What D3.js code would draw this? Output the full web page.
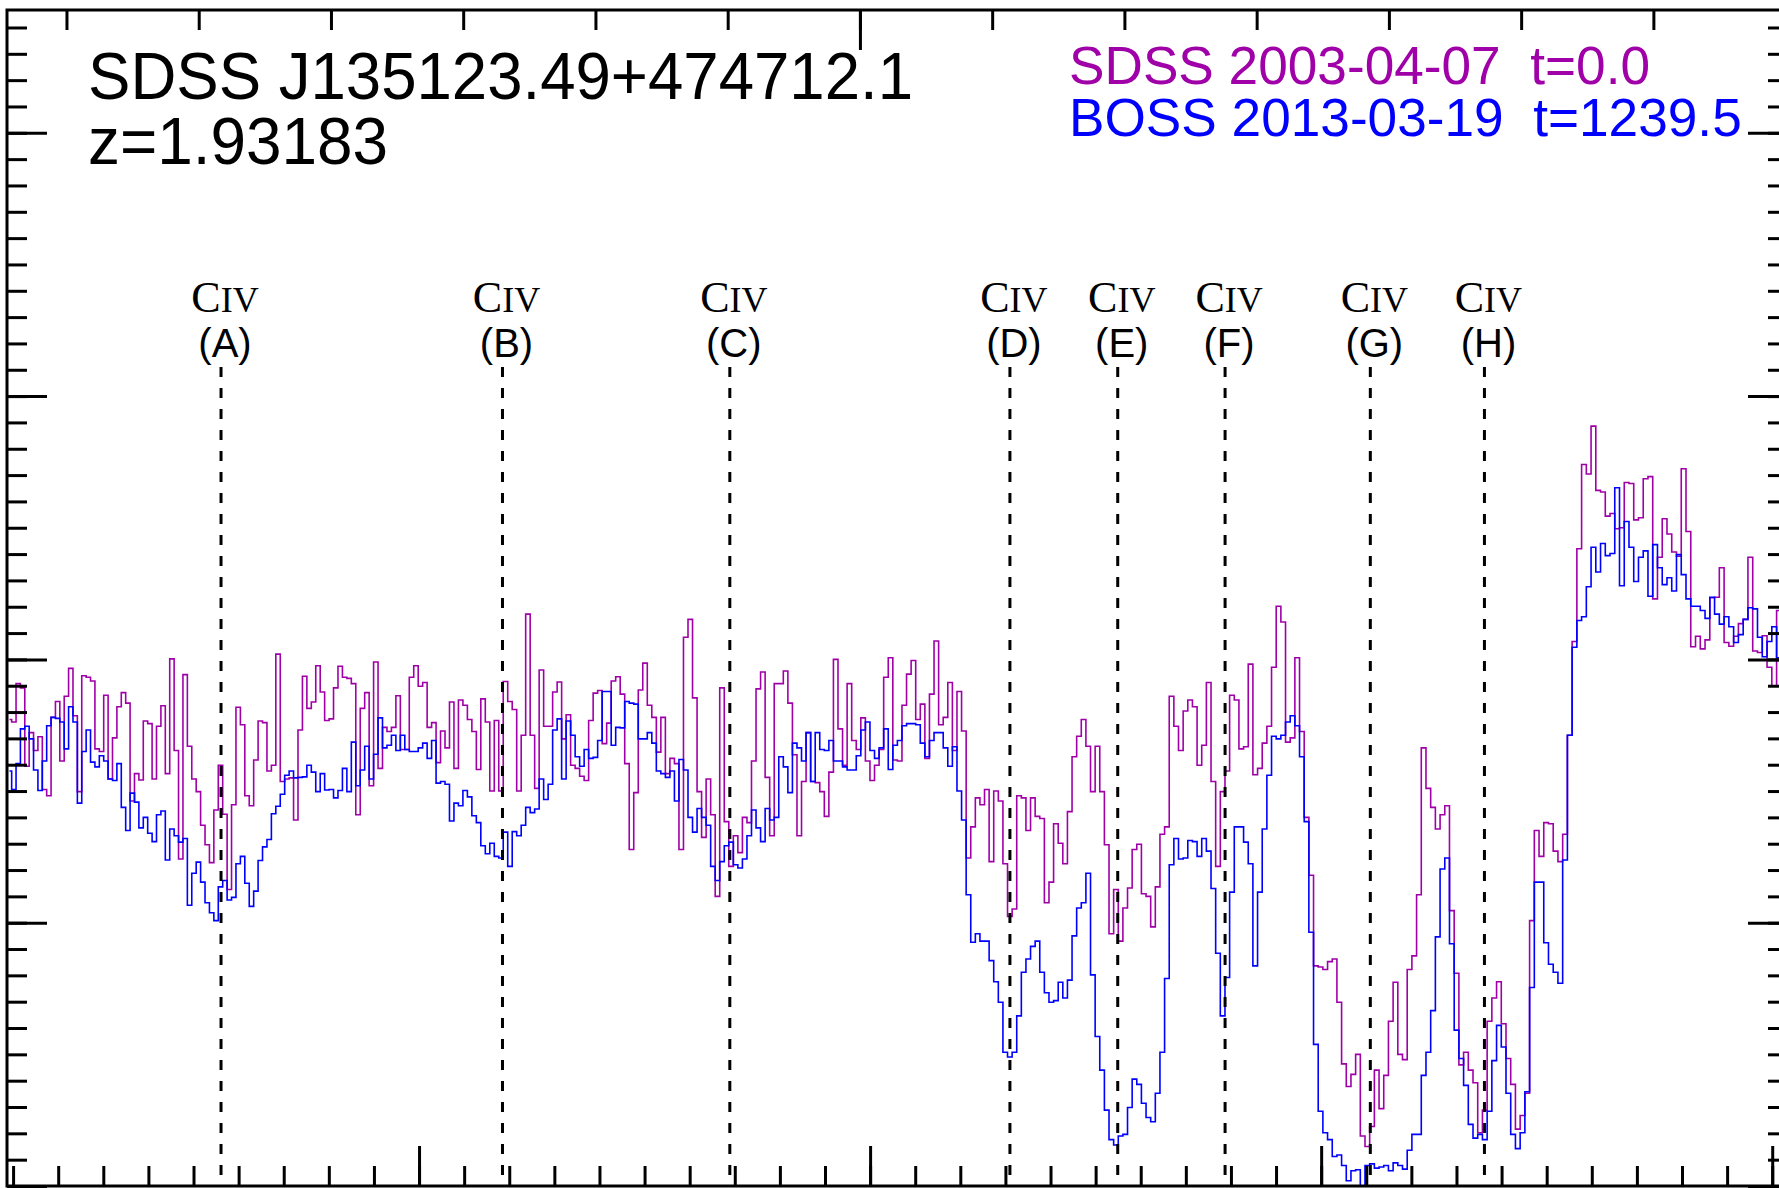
<!DOCTYPE html>
<html><head><meta charset="utf-8">
<script src="https://cdn.jsdelivr.net/npm/d3@7"></script>
<style>
html,body{margin:0;padding:0;background:#fff;}
svg{display:block;}
text{white-space:pre;}
</style></head><body>
<svg id="chart" width="1779" height="1188" xmlns="http://www.w3.org/2000/svg"></svg>
<script>
// ---------------- data ----------------
const objectName = "SDSS J135123.49+474712.1";
const redshift = 1.93183;
const redshiftLabel = "z=1.93183";
const epochLabels = ["SDSS 2003-04-07  t=0.0", "BOSS 2013-03-19  t=1239.5"];
const epochColors = ["#a000a8", "#0000ff"];
// SDSS log-linear wavelength grid (observed frame, Angstrom)
const loglamStart = Math.log10(4209.2);
const dloglam = 1e-4;
// normalised flux, SDSS epoch (2003)
const fluxSDSS = [
0.886,0.881,0.954,0.946,0.797,0.861,0.827,0.853,0.753,0.741,0.890,0.920,0.807,0.930,0.983,0.893,0.749,0.969,0.966,0.959,
0.830,0.825,0.932,0.773,0.851,0.910,0.937,0.917,0.731,0.783,0.771,0.883,0.878,0.773,0.873,0.912,0.783,1.001,0.827,0.621,
0.971,0.835,0.773,0.749,0.685,0.648,0.614,0.714,0.799,
0.706,0.563,0.724,0.909,0.876,0.741,0.722,0.809,0.883,0.880,0.788,0.799,1.010,0.768,0.773,0.775,0.695,0.866,0.968,0.907,
0.919,0.988,0.938,0.884,0.887,0.946,0.987,0.966,0.964,0.954,0.705,0.907,0.937,0.760,0.995,0.793,0.871,0.863,0.871,0.931,
0.829,0.829,0.966,0.988,0.949,0.956,0.871,0.880,0.804,
0.864,0.832,0.919,0.793,0.923,0.913,0.886,0.863,0.791,0.925,0.881,0.750,0.884,0.750,0.958,0.920,0.905,0.750,0.856,1.086,
0.856,0.755,0.980,0.873,0.873,0.938,0.957,0.849,0.895,0.799,0.793,0.778,0.770,0.884,0.936,0.941,0.840,0.879,0.959,0.967,
0.934,0.802,0.639,0.747,0.942,0.993,0.913,0.890,0.824,
0.890,0.783,0.812,0.802,0.639,1.042,1.076,0.927,0.749,0.662,0.773,0.705,0.550,0.946,0.692,0.607,0.665,0.633,0.700,0.690,
0.807,0.944,0.976,0.776,0.665,0.954,0.954,0.978,0.917,0.819,0.665,0.768,0.861,0.768,0.766,0.749,0.702,0.786,1.000,0.868,
0.799,0.954,0.846,0.829,0.889,0.807,0.770,0.799,0.829,0.966,1.003,
0.809,0.807,0.913,0.972,0.998,0.886,0.915,0.812,0.934,1.035,0.876,0.890,0.956,0.827,0.939,0.864,0.623,0.682,0.737,0.724,
0.753,0.616,0.750,0.731,0.612,0.512,0.526,0.741,0.737,0.675,0.737,0.702,0.698,0.538,0.577,0.688,0.651,0.612,0.711,0.815,
0.854,0.886,0.835,0.749,0.835,
0.749,0.648,0.479,0.563,0.465,0.528,0.566,0.639,0.649,0.555,0.550,0.492,0.568,0.668,0.682,0.930,0.873,0.827,0.902,0.923,
0.910,0.799,0.837,0.956,0.768,0.607,0.749,0.788,0.932,0.923,0.830,0.834,0.991,0.781,0.793,0.841,0.873,0.985,1.101,1.071,
0.843,0.851,1.003,0.863,0.700,0.590,0.418,
0.416,0.411,0.426,0.431,0.349,0.232,0.189,0.212,0.250,0.095,0.075,0.113,0.220,0.147,0.210,0.313,0.387,0.250,0.240,0.411,
0.437,0.553,0.832,0.755,0.719,0.678,0.705,0.722,0.523,0.404,0.230,0.254,0.220,0.196,0.101,0.144,0.313,0.357,0.388,0.308,
0.242,0.193,0.108,0.134,0.176,0.504,0.675,
0.626,0.690,0.688,0.636,0.616,0.668,0.856,1.034,1.210,1.370,1.352,1.443,1.321,1.318,1.272,1.277,1.248,1.250,1.336,1.334,
1.265,1.269,1.343,1.347,1.115,1.194,1.267,1.238,1.204,1.196,1.362,1.243,1.024,1.044,1.020,1.037,1.117,1.118,1.174,1.032,
1.025,1.044,1.068,1.076,1.194,1.016,1.013,1.045,0.985,0.949,1.093
];
// normalised flux, BOSS epoch (2013)
const fluxBOSS = [
0.788,0.753,0.802,0.868,0.873,0.849,0.790,0.751,0.807,0.874,0.890,0.888,0.881,0.830,0.910,0.881,0.727,0.825,0.866,0.805,
0.796,0.817,0.807,0.773,0.770,0.802,0.719,0.675,0.746,0.729,0.680,0.700,0.670,0.654,0.705,0.712,0.619,0.678,0.665,0.653,
0.660,0.533,0.594,0.615,0.577,0.538,0.519,0.504,0.568,
0.580,0.543,0.548,0.612,0.626,0.575,0.531,0.560,0.618,0.644,0.658,0.707,0.721,0.744,0.780,0.788,0.775,0.776,0.777,0.799,
0.786,0.749,0.783,0.752,0.753,0.737,0.751,0.793,0.749,0.843,0.760,0.790,0.835,0.773,0.820,0.889,0.832,0.837,0.856,0.827,
0.856,0.829,0.825,0.825,0.832,0.841,0.812,0.846,0.765,
0.768,0.763,0.693,0.727,0.722,0.751,0.739,0.703,0.690,0.646,0.631,0.651,0.626,0.623,0.672,0.607,0.673,0.665,0.685,0.719,
0.709,0.716,0.773,0.734,0.763,0.866,0.887,0.773,0.883,0.856,0.815,0.797,0.829,0.812,0.814,0.846,0.939,0.939,0.837,0.871,
0.870,0.920,0.917,0.915,0.849,0.849,0.861,0.841,0.788,
0.783,0.776,0.788,0.731,0.810,0.790,0.700,0.672,0.717,0.700,0.685,0.607,0.580,0.616,0.646,0.653,0.610,0.604,0.621,0.665,
0.714,0.680,0.654,0.717,0.695,0.700,0.815,0.796,0.747,0.841,0.832,0.807,0.861,0.768,0.861,0.829,0.827,0.846,0.807,0.807,
0.796,0.790,0.790,0.817,0.866,0.881,0.827,0.812,0.832,0.868,0.791,
0.837,0.846,0.874,0.878,0.878,0.876,0.841,0.815,0.846,0.861,0.861,0.832,0.797,0.834,0.750,0.695,0.553,0.463,0.479,0.465,
0.465,0.428,0.388,0.349,0.254,0.245,0.254,0.323,0.406,0.431,0.455,0.465,0.406,0.367,0.349,0.352,0.387,0.357,0.391,0.475,
0.528,0.538,0.594,0.401,0.284,
0.220,0.144,0.088,0.078,0.095,0.098,0.149,0.203,0.193,0.157,0.130,0.122,0.176,0.254,0.394,0.610,0.660,0.621,0.623,0.656,
0.654,0.626,0.660,0.636,0.565,0.442,0.323,0.396,0.558,0.682,0.682,0.653,0.612,0.418,0.558,0.678,0.780,0.854,0.849,0.856,
0.881,0.893,0.874,0.815,0.692,0.482,0.269,
0.142,0.101,0.088,0.056,0.059,0.039,0.010,0.029,0.031,0.000,0.039,0.042,0.034,0.036,0.039,0.029,0.044,0.039,0.032,0.068,
0.098,0.098,0.210,0.254,0.333,0.473,0.602,0.623,0.460,0.296,0.242,0.191,0.117,0.091,0.098,0.088,0.142,0.238,0.305,0.264,
0.176,0.098,0.071,0.101,0.179,0.377,0.577,
0.577,0.462,0.421,0.406,0.385,0.619,0.856,1.023,1.074,1.081,1.138,1.213,1.166,1.220,1.197,1.201,1.326,1.140,1.262,1.213,
1.148,1.194,1.206,1.120,1.218,1.174,1.142,1.155,1.130,1.199,1.161,1.115,1.101,1.101,1.093,1.078,1.118,1.086,1.067,1.081,
1.062,1.032,1.047,1.076,1.098,1.096,1.042,1.005,1.034,1.062,1.003
];
// C IV absorber positions (observed wavelength, Angstrom)
const civNames = ["A","B","C","D","E","F","G","H"];
const civWave  = [4256.1, 4318.5, 4368.9, 4431.0, 4454.9, 4478.7, 4510.9, 4536.2];
// axis ticks
const obsMinorTicks = d3.range(4210, 4601, 10);
const obsMajorTicks = [4300, 4400, 4500, 4600];
const restMinorTicks = d3.range(1440, 1571, 10);
const restMajorTicks = [1500];
const fluxMinorTicks = d3.range(0, 2.21, 0.05);
const fluxMajorTicks = [0, 0.5, 1.0, 1.5, 2.0];

// ---------------- drawing ----------------
const W = 1779, H = 1188;
const P = {left: 7, right: 1788, top: 10, bottom: 1186};
const svg = d3.select("#chart");

const x = d3.scaleLinear().domain([4208.65, 4603.5]).range([P.left, P.right]);
const xRest = d3.scaleLinear().domain(x.domain().map(v => v / (1 + redshift))).range([P.left, P.right]);
const y = d3.scaleLinear().domain([0, 2.2332]).range([P.bottom, P.top]);

svg.append("defs").append("clipPath").attr("id", "plotclip")
  .append("rect").attr("x", P.left).attr("y", P.top)
  .attr("width", P.right - P.left).attr("height", P.bottom - P.top);

const wave = fluxSDSS.map((_, i) => Math.pow(10, loglamStart + i * dloglam));
const waveB = fluxBOSS.map((_, i) => Math.pow(10, loglamStart + i * dloglam));

const stepLine = d3.line().x(d => x(d[0])).y(d => y(d[1])).curve(d3.curveStep);

const gData = svg.append("g").attr("clip-path", "url(#plotclip)");
gData.append("path")
  .attr("d", stepLine(wave.map((w, i) => [w, fluxSDSS[i]])))
  .attr("fill", "none").attr("stroke", epochColors[0]).attr("stroke-width", 1.6);
gData.append("path")
  .attr("d", stepLine(waveB.map((w, i) => [w, fluxBOSS[i]])))
  .attr("fill", "none").attr("stroke", epochColors[1]).attr("stroke-width", 1.6);

// absorber markers
const gCiv = svg.append("g");
civWave.forEach((w, i) => {
  const cx = x(w);
  gCiv.append("line").attr("x1", cx).attr("x2", cx).attr("y1", 367).attr("y2", P.bottom)
    .attr("stroke", "#000").attr("stroke-width", 3).attr("stroke-dasharray", "10,11");
  const t = gCiv.append("text").attr("x", cx + 4).attr("y", 312)
    .attr("text-anchor", "middle").attr("font-family", "Liberation Serif, Times New Roman, serif").attr("fill", "#000");
  t.append("tspan").attr("font-size", 44).text("C");
  t.append("tspan").attr("font-size", 36).text("IV");
  gCiv.append("text").attr("x", cx + 4).attr("y", 357)
    .attr("text-anchor", "middle").attr("font-family", "Liberation Sans, Arial, sans-serif")
    .attr("font-size", 40).attr("fill", "#000").text("(" + civNames[i] + ")");
});

// axes
function styleAxis(g) {
  g.select(".domain").remove();
  g.selectAll(".tick line").attr("stroke", "#000").attr("stroke-width", 3);
  g.selectAll(".tick text").remove();
}
const gAx = svg.append("g");
gAx.append("g").attr("transform", `translate(0,${P.bottom})`)
  .call(d3.axisBottom(x).tickValues(obsMinorTicks).tickSize(-20).tickFormat("")).call(styleAxis);
gAx.append("g").attr("transform", `translate(0,${P.bottom})`)
  .call(d3.axisBottom(x).tickValues(obsMajorTicks).tickSize(-40).tickFormat("")).call(styleAxis);
gAx.append("g").attr("transform", `translate(0,${P.top})`)
  .call(d3.axisTop(xRest).tickValues(restMinorTicks).tickSize(-20).tickFormat("")).call(styleAxis);
gAx.append("g").attr("transform", `translate(0,${P.top})`)
  .call(d3.axisTop(xRest).tickValues(restMajorTicks).tickSize(-40).tickFormat("")).call(styleAxis);
gAx.append("g").attr("transform", `translate(${P.left},0)`)
  .call(d3.axisLeft(y).tickValues(fluxMinorTicks).tickSize(-20).tickFormat("")).call(styleAxis);
gAx.append("g").attr("transform", `translate(${P.left},0)`)
  .call(d3.axisLeft(y).tickValues(fluxMajorTicks).tickSize(-40).tickFormat("")).call(styleAxis);
gAx.append("g").attr("transform", `translate(${P.right},0)`)
  .call(d3.axisRight(y).tickValues(fluxMinorTicks).tickSize(-20).tickFormat("")).call(styleAxis);
gAx.append("g").attr("transform", `translate(${P.right},0)`)
  .call(d3.axisRight(y).tickValues(fluxMajorTicks).tickSize(-40).tickFormat("")).call(styleAxis);

// frame
svg.append("rect").attr("x", P.left).attr("y", P.top)
  .attr("width", P.right - P.left).attr("height", P.bottom - P.top)
  .attr("fill", "none").attr("stroke", "#000").attr("stroke-width", 3);

// title
svg.append("text").attr("x", 88).attr("y", 99)
  .attr("font-family", "Liberation Sans, Arial, sans-serif").attr("font-size", 66)
  .attr("textLength", 825).attr("lengthAdjust", "spacingAndGlyphs")
  .attr("fill", "#000").text(objectName);
svg.append("text").attr("x", 88).attr("y", 164)
  .attr("font-family", "Liberation Sans, Arial, sans-serif").attr("font-size", 66)
  .attr("textLength", 300).attr("lengthAdjust", "spacingAndGlyphs")
  .attr("fill", "#000").text(redshiftLabel);

// legend
epochLabels.forEach((lab, i) => {
  svg.append("text").attr("x", 1069).attr("y", 84 + i * 52)
    .attr("font-family", "Liberation Sans, Arial, sans-serif").attr("font-size", 53.2)
    .attr("fill", epochColors[i]).attr("xml:space", "preserve").text(lab);
});
</script>
</body></html>
